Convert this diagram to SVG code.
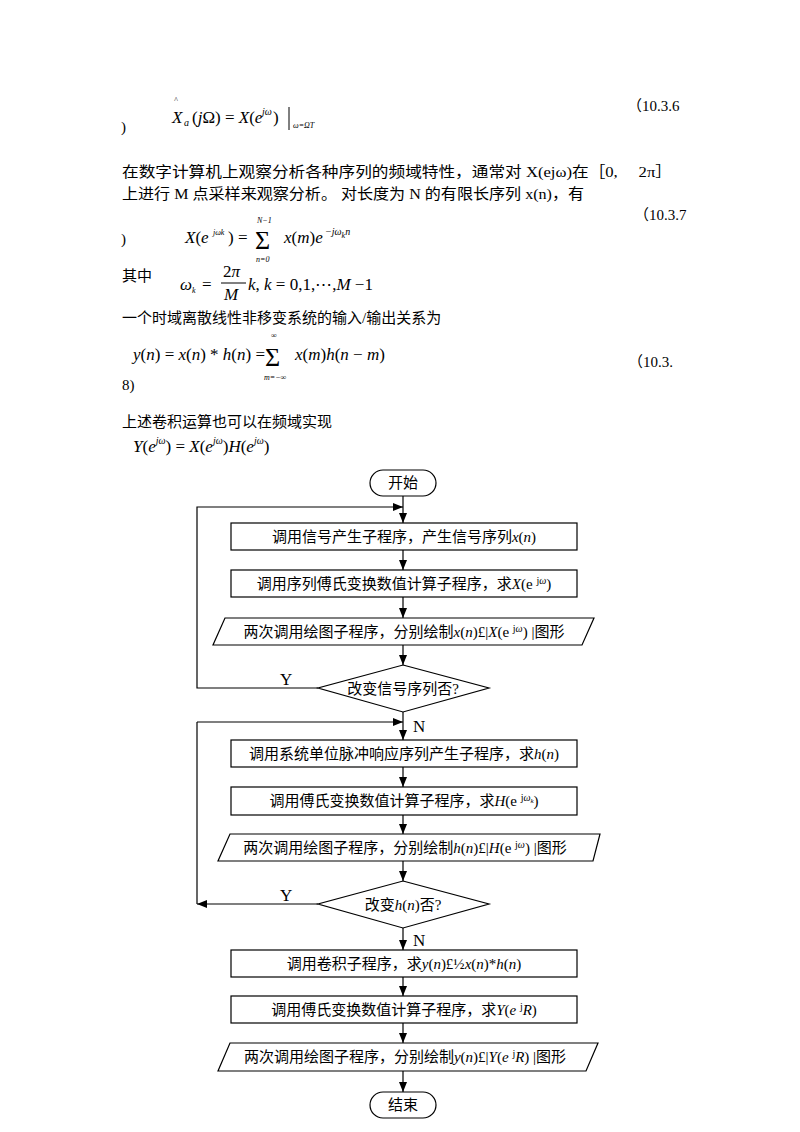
<svg xmlns="http://www.w3.org/2000/svg" width="800" height="1132" viewBox="0 0 800 1132">
<style>
.cn{font-family:"Liberation Serif","Noto Sans CJK SC",serif;font-size:15px;fill:#000}
.m{font-family:"Liberation Serif",serif;font-size:17px;fill:#000}
.mi{font-family:"Liberation Serif",serif;font-style:italic;fill:#000}
.sig{font-family:"Liberation Serif",serif;font-size:26px;fill:#000}
.sm{font-size:10px}
.xs{font-size:8px}
.fc{font-family:"Liberation Serif","Noto Sans CJK SC",serif;font-size:15px;fill:#000;text-anchor:middle}
.shape{fill:#fff;stroke:#000;stroke-width:1.2}
.line{fill:none;stroke:#000;stroke-width:1.2}
</style>
<defs>
<marker id="arr" markerWidth="10" markerHeight="8" refX="10" refY="4" orient="auto" markerUnits="userSpaceOnUse">
<path d="M0,0 L10,4 L0,8 Z" fill="#000"/>
</marker>
</defs>
<rect width="800" height="1132" fill="#fff"/>

<g id="text-block">
<!-- formula 10.3.6 -->
<text x="174" y="103" class="mi xs">^</text>
<text x="172" y="123" class="mi" font-size="17">X</text>
<text x="184" y="126" class="mi sm">a</text>
<text x="192" y="123" class="m">(<tspan font-style="italic">j</tspan>Ω) = <tspan font-style="italic">X</tspan>(<tspan font-style="italic">e</tspan></text>
<text x="262" y="115" class="mi sm">jω</text>
<text x="273" y="123" class="m">)</text>
<line x1="289" y1="107" x2="289" y2="130" stroke="#000" stroke-width="1"/>
<text x="293" y="128" class="mi xs">ω=ΩT</text>
<text x="627" y="111" class="cn">（10.3.6</text>
<text x="121" y="132" class="cn">)</text>

<text x="122" y="177" class="cn" textLength="550" lengthAdjust="spacingAndGlyphs">在数字计算机上观察分析各种序列的频域特性，通常对 X(ejω)在［0,　 2π］</text>
<text x="122" y="199" class="cn" textLength="462" lengthAdjust="spacingAndGlyphs">上进行 M 点采样来观察分析。 对长度为 N 的有限长序列 x(n)，有</text>

<!-- formula 10.3.7 -->
<text x="634" y="220" class="cn">（10.3.7</text>
<text x="121" y="244" class="cn">)</text>
<text x="185" y="243" class="m"><tspan font-style="italic">X</tspan>(<tspan font-style="italic">e</tspan></text>
<text x="213" y="235" class="mi xs">jωk</text>
<text x="228" y="243" class="m">) =</text>
<text x="255" y="249" class="sig">Σ</text>
<text x="257" y="223" class="mi xs">N−1</text>
<text x="256" y="262" class="mi xs">n=0</text>
<text x="284" y="243" class="m"><tspan font-style="italic">x</tspan>(<tspan font-style="italic">m</tspan>)<tspan font-style="italic">e</tspan></text>
<text x="325" y="235" class="mi sm">−jω<tspan class="xs" dy="3">k</tspan><tspan dy="-3">n</tspan></text>

<!-- 其中 -->
<text x="122" y="281" class="cn">其中</text>
<text x="180" y="290" class="mi" font-size="17">ω</text>
<text x="192" y="293" class="mi xs">k</text>
<text x="202" y="290" class="m">=</text>
<text x="223" y="277" class="m">2<tspan font-style="italic">π</tspan></text>
<line x1="221" y1="283" x2="246" y2="283" stroke="#000" stroke-width="1"/>
<text x="224" y="300" class="mi" font-size="17">M</text>
<text x="248" y="290" class="m"><tspan font-style="italic">k</tspan>, <tspan font-style="italic">k</tspan> = 0,1,⋯,<tspan font-style="italic">M</tspan> −1</text>

<text x="122" y="323" class="cn">一个时域离散线性非移变系统的输入/输出关系为</text>

<!-- formula 10.3.8 -->
<text x="133" y="360" class="m" font-size="16"><tspan font-style="italic">y</tspan>(<tspan font-style="italic">n</tspan>) = <tspan font-style="italic">x</tspan>(<tspan font-style="italic">n</tspan>) * <tspan font-style="italic">h</tspan>(<tspan font-style="italic">n</tspan>) =</text>
<text x="265" y="366" class="sig">Σ</text>
<text x="271" y="338" class="m xs">∞</text>
<text x="264" y="380" class="mi xs">m=−∞</text>
<text x="295" y="360" class="m"><tspan font-style="italic">x</tspan>(<tspan font-style="italic">m</tspan>)<tspan font-style="italic">h</tspan>(<tspan font-style="italic">n</tspan> − <tspan font-style="italic">m</tspan>)</text>
<text x="628" y="367" class="cn">（10.3.</text>
<text x="122" y="390" class="cn">8)</text>

<text x="122" y="427" class="cn">上述卷积运算也可以在频域实现</text>
<text x="133" y="452" class="m"><tspan font-style="italic">Y</tspan>(<tspan font-style="italic">e</tspan><tspan class="sm" font-style="italic" dy="-8">jω</tspan><tspan dy="8">) = </tspan><tspan font-style="italic">X</tspan>(<tspan font-style="italic">e</tspan><tspan class="sm" font-style="italic" dy="-8">jω</tspan><tspan dy="8">)</tspan><tspan font-style="italic">H</tspan>(<tspan font-style="italic">e</tspan><tspan class="sm" font-style="italic" dy="-8">jω</tspan><tspan dy="8">)</tspan></text>
</g>

<g id="connectors">
<line class="line" x1="403" y1="496" x2="403" y2="523" marker-end="url(#arr)"/>
<line class="line" x1="403" y1="550" x2="403" y2="570" marker-end="url(#arr)"/>
<line class="line" x1="403" y1="597" x2="403" y2="618" marker-end="url(#arr)"/>
<line class="line" x1="403" y1="645" x2="403" y2="665" marker-end="url(#arr)"/>
<line class="line" x1="403" y1="712" x2="403" y2="740" marker-end="url(#arr)"/>
<line class="line" x1="403" y1="767" x2="403" y2="787" marker-end="url(#arr)"/>
<line class="line" x1="403" y1="815" x2="403" y2="834" marker-end="url(#arr)"/>
<line class="line" x1="403" y1="861" x2="403" y2="881" marker-end="url(#arr)"/>
<line class="line" x1="403" y1="928" x2="403" y2="950" marker-end="url(#arr)"/>
<line class="line" x1="403" y1="977" x2="403" y2="996" marker-end="url(#arr)"/>
<line class="line" x1="403" y1="1023" x2="403" y2="1043" marker-end="url(#arr)"/>
<line class="line" x1="403" y1="1071" x2="403" y2="1092" marker-end="url(#arr)"/>
<polyline class="line" points="318,688 197,688 197,507 403,507" marker-end="url(#arr)"/>
<line class="line" x1="197" y1="722" x2="403" y2="722" marker-end="url(#arr)"/>
<line class="line" x1="197" y1="722" x2="197" y2="904"/>
<line class="line" x1="318" y1="904" x2="197" y2="904" marker-end="url(#arr)"/>
<text x="280" y="685" class="m" font-size="16">Y</text>
<text x="413" y="732" class="m" font-size="16">N</text>
<text x="280" y="901" class="m" font-size="16">Y</text>
<text x="413" y="946" class="m" font-size="16">N</text>
</g>

<g id="start">
<rect class="shape" x="370" y="470" width="66" height="26" rx="13"/>
<text x="403" y="488" class="fc">开始</text>
</g>
<g id="box1">
<rect class="shape" x="231" y="523" width="346" height="27"/>
<text x="404" y="542" class="fc">调用信号产生子程序，产生信号序列<tspan font-style="italic">x</tspan>(<tspan font-style="italic">n</tspan>)</text>
</g>
<g id="box2">
<rect class="shape" x="231" y="570" width="346" height="27"/>
<text x="404" y="589" class="fc">调用序列傅氏变换数值计算子程序，求<tspan font-style="italic">X</tspan>(e <tspan font-size="10" dy="-5">j</tspan><tspan font-size="10" font-style="italic">ω</tspan><tspan dy="5">)</tspan></text>
</g>
<g id="plot1">
<polygon class="shape" points="225,618 594,618 582,645 213,645"/>
<text x="404" y="637" class="fc">两次调用绘图子程序，分别绘制<tspan font-style="italic">x</tspan>(<tspan font-style="italic">n</tspan>)£|<tspan font-style="italic">X</tspan>(e <tspan font-size="10" dy="-5">j</tspan><tspan font-size="10" font-style="italic">ω</tspan><tspan dy="5">) |图形</tspan></text>
</g>
<g id="decision1">
<polygon class="shape" points="403,665 489,688 403,712 318,688"/>
<text x="403" y="694" class="fc">改变信号序列否?</text>
</g>
<g id="box4">
<rect class="shape" x="231" y="740" width="346" height="27"/>
<text x="404" y="759" class="fc">调用系统单位脉冲响应序列产生子程序，求<tspan font-style="italic">h</tspan>(<tspan font-style="italic">n</tspan>)</text>
</g>
<g id="box5">
<rect class="shape" x="231" y="787" width="346" height="28"/>
<text x="404" y="806" class="fc">调用傅氏变换数值计算子程序，求<tspan font-style="italic">H</tspan>(e <tspan font-size="10" dy="-5">j</tspan><tspan font-size="10" font-style="italic">ω<tspan font-size="7" dy="2">k</tspan></tspan><tspan dy="3">)</tspan></text>
</g>
<g id="plot2">
<polygon class="shape" points="230,834 600,834 593,861 218,861"/>
<text x="405" y="853" class="fc">两次调用绘图子程序，分别绘制<tspan font-style="italic">h</tspan>(<tspan font-style="italic">n</tspan>)£|<tspan font-style="italic">H</tspan>(e <tspan font-size="10" dy="-5">j</tspan><tspan font-size="10" font-style="italic">ω</tspan><tspan dy="5">) |图形</tspan></text>
</g>
<g id="decision2">
<polygon class="shape" points="403,881 489,904 403,928 318,904"/>
<text x="403" y="910" class="fc">改变<tspan font-style="italic">h</tspan>(<tspan font-style="italic">n</tspan>)否?</text>
</g>
<g id="box7">
<rect class="shape" x="231" y="950" width="346" height="27"/>
<text x="404" y="969" class="fc">调用卷积子程序，求<tspan font-style="italic">y</tspan>(<tspan font-style="italic">n</tspan>)£½<tspan font-style="italic">x</tspan>(<tspan font-style="italic">n</tspan>)*<tspan font-style="italic">h</tspan>(<tspan font-style="italic">n</tspan>)</text>
</g>
<g id="box8">
<rect class="shape" x="231" y="996" width="346" height="27"/>
<text x="404" y="1015" class="fc">调用傅氏变换数值计算子程序，求<tspan font-style="italic">Y</tspan>(<tspan font-style="italic">e</tspan> <tspan font-size="10" dy="-5">j</tspan><tspan font-style="italic" dy="5">R</tspan>)</text>
</g>
<g id="plot3">
<polygon class="shape" points="230,1043 598,1043 586,1071 218,1071"/>
<text x="405" y="1062" class="fc">两次调用绘图子程序，分别绘制<tspan font-style="italic">y</tspan>(<tspan font-style="italic">n</tspan>)£|<tspan font-style="italic">Y</tspan>(<tspan font-style="italic">e</tspan> <tspan font-size="10" dy="-5">j</tspan><tspan font-style="italic" dy="5">R</tspan>) |图形</text>
</g>
<g id="end">
<rect class="shape" x="370" y="1092" width="66" height="26" rx="13"/>
<text x="403" y="1110" class="fc">结束</text>
</g>
</svg>
